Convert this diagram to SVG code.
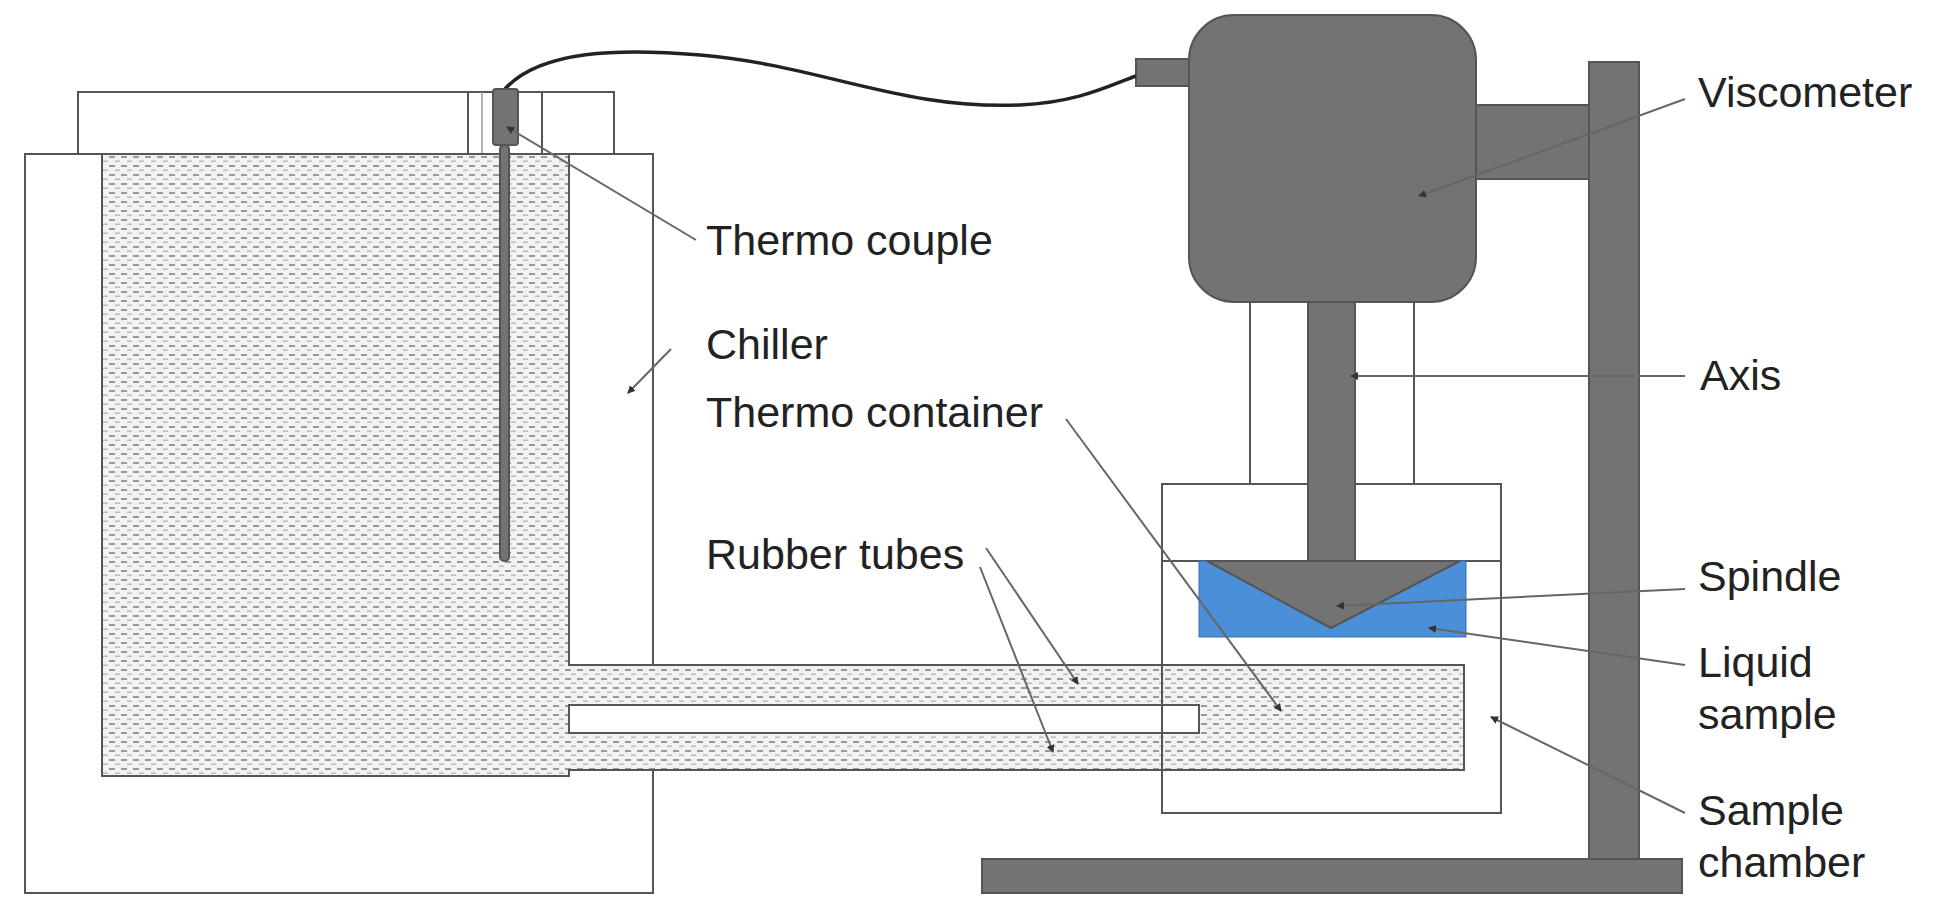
<svg xmlns="http://www.w3.org/2000/svg" width="1935" height="912" viewBox="0 0 1935 912">
<style>
.o{fill:#fff;stroke:#555;stroke-width:2}
.g{fill:#737373;stroke:#555;stroke-width:2}
.d{fill:url(#dots);stroke:#555;stroke-width:2}
.t{font-family:"Liberation Sans",Arial,sans-serif;font-size:43px;fill:#222}
.l{stroke:#666;stroke-width:2;fill:none;marker-end:url(#ah)}
</style>
<defs>
<pattern id="dots" width="12" height="9" patternUnits="userSpaceOnUse">
<rect width="12" height="9" fill="#f2f2f2"/>
<rect x="1" y="3" width="6" height="2" fill="#999"/>
<rect x="7" y="7.5" width="5" height="1.5" fill="#bbb"/>
</pattern>
<marker id="ah" markerWidth="8" markerHeight="8" refX="7" refY="4" orient="auto" markerUnits="userSpaceOnUse"><path d="M0,0 L8,4 L0,8 Z" fill="#333"/></marker>
</defs>
<rect width="1935" height="912" fill="#fff"/>
<g id="chiller">
<rect class="o" x="25" y="154" width="628" height="739"/>
<rect class="o" x="78" y="92" width="390" height="62"/>
<rect class="o" x="468" y="92" width="74" height="62"/>
<line x1="482" y1="92" x2="482" y2="154" stroke="#999" stroke-width="1.5"/>
<rect class="o" x="542" y="92" width="72" height="62"/>
<path class="d" d="M102,154 H569 V665 H1464 V770 H569 V776 H102 Z"/>
<rect class="o" x="569" y="705" width="630" height="28"/>
</g>
<g id="sample-chamber">
<rect x="1162" y="484" width="339" height="329" fill="none" stroke="#555" stroke-width="2"/>
<line x1="1162" y1="561" x2="1501" y2="561" stroke="#555" stroke-width="2"/>
<rect x="1199" y="561" width="267" height="76" fill="#4a8fd8" stroke="#3a70b0" stroke-width="1"/>
<path class="g" d="M1207,561 L1331,628 L1460,561 Z"/>
</g>
<g id="stand">
<rect class="g" x="1589" y="62" width="50" height="797"/>
<rect class="g" x="982" y="859" width="700" height="34"/>
<rect class="g" x="1476" y="105" width="113" height="74"/>
</g>
<g id="viscometer">
<rect class="o" x="1250" y="302" width="164" height="182"/>
<rect class="g" x="1308" y="302" width="47" height="259"/>
<rect class="g" x="1136" y="59" width="53" height="27"/>
<rect class="g" x="1189" y="15" width="287" height="287" rx="45"/>
</g>
<g id="thermocouple">
<path d="M505,89 C540,50 620,48 700,55 C820,65 900,110 1020,105 C1080,102 1110,85 1136,76" fill="none" stroke="#222" stroke-width="3.5"/>
<rect class="g" x="500" y="145" width="9" height="416" rx="4"/>
<rect class="g" x="493" y="89" width="25" height="56" rx="3"/>
</g>
<g id="connectors">
<line class="l" x1="696" y1="240" x2="507" y2="127"/>
<line class="l" x1="671" y1="349" x2="628" y2="393"/>
<line class="l" x1="1685" y1="99" x2="1419" y2="196"/>
<line class="l" x1="1685" y1="376" x2="1351" y2="376"/>
<line class="l" x1="1066" y1="419" x2="1281" y2="711"/>
<line class="l" x1="986" y1="548" x2="1078" y2="684"/>
<line class="l" x1="980" y1="567" x2="1053" y2="752"/>
<line class="l" x1="1685" y1="589" x2="1337" y2="606"/>
<line class="l" x1="1685" y1="665" x2="1429" y2="628"/>
<line class="l" x1="1685" y1="813" x2="1491" y2="717"/>
</g>
<g id="labels">
<text class="t" x="1698" y="107">Viscometer</text>
<text class="t" x="706" y="255">Thermo couple</text>
<text class="t" x="706" y="359">Chiller</text>
<text class="t" x="1700" y="390">Axis</text>
<text class="t" x="706" y="427">Thermo container</text>
<text class="t" x="706" y="569">Rubber tubes</text>
<text class="t" x="1698" y="591">Spindle</text>
<text class="t" x="1698" y="677">Liquid</text>
<text class="t" x="1698" y="729">sample</text>
<text class="t" x="1698" y="825">Sample</text>
<text class="t" x="1698" y="877">chamber</text>
</g>
</svg>
